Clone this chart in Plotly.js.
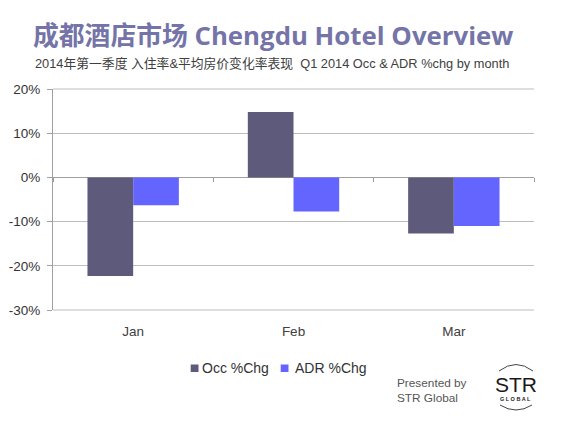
<!DOCTYPE html>
<html><head><meta charset="utf-8">
<script src="https://cdn.plot.ly/plotly-3.0.1.min.js"></script>
<style>html,body{margin:0;padding:0;background:#fff;}#c{width:567px;height:426px;}</style>
</head><body><div id="c"></div>
<script>
var months = ["Jan", "Feb", "Mar"];
var occChg = [-22.3, 14.8, -12.7];
var adrChg = [-6.3, -7.7, -11.0];
var seriesNames = ["Occ %Chg", "ADR %Chg"];
var seriesColors = ["#5E5A7B", "#6464FF"];
var yTicks = [-30, -20, -10, 0, 10, 20];

var L = 53, R = 534, T = 89, B = 310;
function px2x(p){ return (p - L) / (R - L); }
function px2y(p){ return (B - p) / (B - T); }

var traces = [
  {type:"bar", x:months, y:occChg, name:seriesNames[0], marker:{color:seriesColors[0]}, hoverinfo:"none"},
  {type:"bar", x:months, y:adrChg, name:seriesNames[1], marker:{color:seriesColors[1]}, hoverinfo:"none"},
  {type:"scatter", x:months, y:[null,null,null], xaxis:"x2", showlegend:false, hoverinfo:"none"}
];

var font = "Liberation Sans, Arial, sans-serif";
var legendX = [[190.7, 198.5, 200], [280.7, 288.5, 292.5]];
var shapes = [
  {type:"line", xref:"paper", yref:"paper", x0:0, x1:1, y0:1, y1:1, line:{color:"#BDBDBD", width:1}},
  {type:"line", xref:"paper", yref:"paper", x0:0, x1:1, y0:0, y1:0, line:{color:"#BDBDBD", width:1}},
  {type:"path", xref:"paper", yref:"paper",
   path:"M "+px2x(499)+","+px2y(371)+" Q "+px2x(516)+","+px2y(358)+" "+px2x(533)+","+px2y(371),
   line:{color:"#444", width:1}},
  {type:"path", xref:"paper", yref:"paper",
   path:"M "+px2x(500)+","+px2y(405)+" Q "+px2x(516)+","+px2y(415)+" "+px2x(532)+","+px2y(405),
   line:{color:"#444", width:1}}
];
var annotations = [
  {text:"2014年第一季度 入住率&平均房价变化率表现  Q1 2014 Occ & ADR %chg by month", xref:"paper", yref:"paper",
   x:px2x(33), y:px2y(64), xanchor:"left", yanchor:"middle", showarrow:false,
   font:{family:"Liberation Sans, Noto Sans CJK SC, sans-serif", size:12.8, color:"#404040"}},
  {text:"Presented by<br>STR Global", xref:"paper", yref:"paper", x:px2x(395), y:px2y(390),
   xanchor:"left", yanchor:"middle", align:"left", showarrow:false,
   font:{family:font, size:11.8, color:"#555"}},
  {text:"STR", xref:"paper", yref:"paper", x:px2x(516), y:px2y(384), xanchor:"center", yanchor:"middle",
   showarrow:false, font:{family:font, size:21, color:"#1a1a1a"}},
  {text:"<b>G L O B A L</b>", xref:"paper", yref:"paper", x:px2x(515), y:px2y(398.5), xanchor:"center", yanchor:"middle",
   showarrow:false, font:{family:font, size:5.5, color:"#222"}}
];
for (var i = 0; i < seriesNames.length; i++) {
  shapes.push({type:"rect", xref:"paper", yref:"paper", x0:px2x(legendX[i][0]), x1:px2x(legendX[i][1]),
               y0:px2y(372), y1:px2y(364.5), fillcolor:seriesColors[i], line:{width:0}});
  annotations.push({text:seriesNames[i], xref:"paper", yref:"paper", x:px2x(legendX[i][2]), y:px2y(368),
                    xanchor:"left", yanchor:"middle", showarrow:false,
                    font:{family:font, size:14, color:"#333"}});
}

var layout = {
  width:567, height:426,
  margin:{l:L, r:567-R, t:T, b:426-B},
  paper_bgcolor:"#ffffff", plot_bgcolor:"#ffffff",
  barmode:"group", bargap:0.43, bargroupgap:0,
  showlegend:false,
  title:{text:"<b>成都酒店市场 Chengdu Hotel Overview</b>", x:33/567, xanchor:"left", xref:"container",
         y:1-36/426, yanchor:"middle", yref:"container",
         font:{family:"Open Sans, Noto Sans CJK SC, sans-serif", size:25.8, color:"#7474A8"}},
  xaxis:{type:"category", range:[-0.5,2.5], showgrid:false, zeroline:false, showline:false,
         ticks:"outside", ticklen:9, tickcolor:"rgba(0,0,0,0)",
         tickfont:{family:font, size:13.5, color:"#404040"}},
  xaxis2:{type:"category", overlaying:"x", anchor:"free", position:0.6, range:[-0.5,2.5],
          showgrid:false, zeroline:false, showline:false, showticklabels:false,
          ticks:"outside", tickson:"boundaries", ticklen:4, tickcolor:"#999", tickwidth:1},
  yaxis:{range:[-30,20], tickvals:yTicks, ticktext:yTicks.map(function(v){return v+"%";}),
         showgrid:true, gridcolor:"#BDBDBD", gridwidth:1, zeroline:true, zerolinecolor:"#A0A0A0", zerolinewidth:1,
         showline:true, linecolor:"#A0A0A0", linewidth:1, ticks:"outside", ticklen:5, tickcolor:"#A0A0A0",
         ticklabelstandoff:4,
         tickfont:{family:font, size:13.5, color:"#333"}},
  shapes:shapes,
  annotations:annotations
};
Plotly.newPlot("c", traces, layout, {displayModeBar:false, staticPlot:true});
</script></body></html>
